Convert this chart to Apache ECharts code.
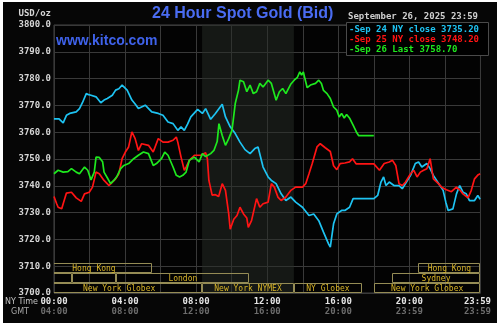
<!DOCTYPE html>
<html>
<head>
<meta charset="utf-8">
<script src="https://cdn.jsdelivr.net/npm/echarts@6/dist/echarts.min.js"></script>
<style>
  html, body { margin: 0; padding: 0; background: #ffffff; }
  #wrap { position: relative; width: 500px; height: 326px; background: #ffffff; }
  #panel { position: absolute; left: 3px; top: 2px; width: 494px; height: 321px; background: #060606; }
  #chart { position: absolute; left: 0; top: 0; width: 500px; height: 326px; }
</style>
</head>
<body>
<div id="wrap"><div id="panel"></div><div id="chart"></div></div>
<script>
// Minutes after 00:00 New York time, and spot gold bid (USD/oz)
const sep24Minutes = [0,3,17,31,42,53,64,75,86,96,109,117,125,142,158,169,180,197,208,219,230,247,263,274,285,308,330,352,368,385,402,418,429,440,451,462,485,501,512,529,545,551,568,579,595,612,628,645,662,678,689,706,723,734,750,767,783,800,816,839,861,877,894,910,927,933,944,955,971,982,998,1010,1020,1080,1093,1104,1113,1121,1132,1148,1165,1176,1187,1204,1220,1231,1242,1259,1270,1281,1287,1303,1314,1323,1331,1347,1359,1370,1381,1392,1403,1420,1431,1439];
const sep24Prices = [3765.0,3765.7,3765.0,3763.5,3766.3,3767.0,3767.3,3767.6,3768.8,3771.0,3774.4,3774.0,3773.8,3773.2,3771.0,3772.0,3772.6,3773.8,3775.7,3776.2,3777.6,3775.7,3772.0,3770.5,3768.8,3770.1,3767.6,3767.0,3766.3,3763.8,3763.2,3760.7,3762.0,3760.7,3763.0,3765.7,3768.5,3767.0,3768.8,3764.8,3767.0,3767.6,3770.4,3765.7,3762.0,3759.5,3756.3,3753.5,3752.0,3753.9,3754.5,3747.0,3743.3,3742.0,3740.8,3737.0,3734.5,3735.8,3733.9,3732.0,3728.9,3729.5,3727.0,3722.7,3718.3,3717.1,3725.8,3729.5,3730.8,3730.8,3732.0,3735.2,3735.2,3735.2,3736.4,3741.4,3743.3,3740.1,3741.4,3740.1,3740.1,3738.9,3740.8,3743.9,3748.3,3748.9,3747.0,3748.3,3746.4,3743.9,3744.5,3740.1,3738.3,3733.9,3730.8,3731.4,3737.0,3740.1,3737.6,3737.0,3734.5,3734.5,3736.4,3735.0];

const sep25Minutes = [0,9,14,26,31,42,59,75,92,103,119,130,142,153,169,186,197,208,219,230,241,252,263,274,285,296,319,335,352,368,385,402,413,418,429,440,446,457,474,496,512,518,523,534,545,556,568,579,590,595,607,618,628,640,651,656,667,684,695,706,723,734,744,756,767,783,800,816,839,850,861,872,888,899,916,933,944,955,966,982,998,1008,1020,1080,1099,1115,1132,1143,1154,1165,1176,1187,1204,1215,1226,1237,1248,1259,1270,1281,1298,1309,1325,1342,1359,1370,1381,1398,1409,1420,1431,1439];
const sep25Prices = [3736.0,3733.3,3732.0,3731.4,3733.3,3737.3,3737.6,3735.5,3734.2,3737.0,3737.6,3739.5,3745.1,3744.5,3742.0,3740.1,3741.4,3742.6,3744.5,3750.1,3752.6,3754.5,3760.1,3757.6,3753.2,3755.7,3755.1,3752.6,3757.6,3756.3,3756.3,3757.0,3758.2,3756.3,3750.7,3745.8,3747.0,3749.5,3751.4,3751.4,3752.3,3750.0,3742.0,3736.5,3736.7,3736.0,3740.8,3738.3,3729.5,3723.8,3727.5,3728.9,3732.0,3729.5,3728.0,3724.5,3727.0,3735.2,3732.0,3733.3,3733.9,3740.8,3739.5,3735.8,3734.5,3735.8,3738.3,3739.5,3739.5,3740.8,3744.5,3748.3,3754.5,3755.7,3754.2,3752.8,3747.5,3746.0,3748.3,3748.5,3748.9,3750.1,3748.2,3748.2,3745.8,3748.3,3748.9,3749.5,3747.6,3740.8,3740.1,3741.4,3744.5,3745.8,3743.3,3745.1,3745.8,3746.4,3750.1,3742.6,3740.8,3739.5,3738.5,3737.8,3739.5,3738.5,3737.0,3735.5,3738.3,3742.6,3744.0,3744.5];

const sep26Minutes = [0,14,31,47,59,75,86,103,114,125,136,142,153,164,169,180,191,202,213,225,236,252,269,285,302,319,335,346,363,374,385,402,413,424,435,446,457,474,490,501,512,529,540,551,557,568,579,590,601,612,623,628,640,651,662,673,684,695,706,723,734,750,761,772,783,800,811,822,830,836,842,847,855,866,883,894,903,910,922,933,944,955,963,971,980,988,999,1010,1021,1029,1080];
const sep26Prices = [3744.5,3745.8,3745.1,3745.3,3746.4,3745.1,3744.5,3747.0,3745.8,3742.2,3745.1,3750.7,3750.6,3749.0,3745.1,3743.0,3740.8,3742.0,3743.6,3746.4,3747.6,3748.3,3750.1,3751.4,3752.6,3752.0,3747.6,3748.3,3750.1,3752.6,3751.4,3747.0,3743.9,3743.3,3743.9,3745.1,3749.5,3750.7,3748.9,3752.0,3750.9,3752.0,3753.2,3756.5,3763.2,3758.8,3755.1,3757.6,3760.7,3770.7,3775.7,3779.4,3778.8,3775.1,3777.6,3774.4,3775.1,3778.2,3776.9,3779.4,3778.2,3771.9,3775.1,3776.3,3774.4,3778.0,3779.4,3780.5,3782.5,3781.3,3782.5,3780.1,3776.6,3777.6,3778.2,3779.4,3778.2,3775.6,3774.4,3772.6,3769.4,3768.2,3765.7,3767.0,3765.3,3766.6,3765.1,3762.6,3760.1,3758.7,3758.7];

// Legend entries
const seriesNames = ['Sep 24 NY close', 'Sep 25 NY close', 'Sep 26 Last'];
const seriesValues = [3735.20, 3748.20, 3758.70];
const seriesColors = ['#1ec3f2', '#ff1414', '#1ee81e'];
const dateStamp = 'September 26, 2025 23:59';

// Axis ticks
const priceMin = 3700, priceMax = 3800, priceStep = 10;
const timeMin = 0, timeMax = 1440, timeStep = 120;

// Trading sessions (minutes, NY time) and the row they sit in
const sessionNames = ['Hong Kong', 'Hong Kong', '', '', 'London', 'Sydney', 'New York Globex', 'New York NYMEX', 'NY Globex', 'New York Globex'];
const sessionStart = [-60, 1230, -60, 60, 210, 1140, -60, 500, 810, 1080];
const sessionEnd = [330, 1440, 60, 210, 660, 1440, 500, 810, 1040, 1440];
const sessionRow = [0, 0, 1, 1, 1, 1, 2, 2, 2, 2];

// COMEX pit hours shading
const comexStart = 500, comexEnd = 810;

const MONO = '"DejaVu Sans Mono", monospace';
const pad = n => String(n).padStart(2, '0');
function clock(min) {
  if (min >= 1440) min = 1439;
  const m = ((min % 1440) + 1440) % 1440;
  return pad(Math.floor(m / 60)) + ':' + pad(m % 60);
}
const zip = (xs, ys) => xs.map((x, i) => [x, ys[i]]);

const chart = echarts.init(document.getElementById('chart'), null, { renderer: 'canvas' });

const lineSeries = [sep24Minutes, sep25Minutes, sep26Minutes].map((mins, i) => ({
  name: seriesNames[i],
  type: 'line',
  data: zip(mins, [sep24Prices, sep25Prices, sep26Prices][i]),
  showSymbol: false,
  symbol: 'none',
  smooth: false,
  z: 5,
  lineStyle: { color: seriesColors[i], width: 1.7 },
  clip: true
}));

const sessionSeries = {
  type: 'custom',
  clip: true,
  z: 2,
  silent: true,
  data: sessionNames.map((n, i) => [sessionStart[i], sessionEnd[i], sessionRow[i]]),
  renderItem: function (params, api) {
    const s = api.value(0), e = api.value(1), row = api.value(2);
    const p0 = api.coord([s, priceMin]);
    const p1 = api.coord([e, priceMin]);
    const rowH = 10;
    const y = Math.round(p0[1] - (3 - row) * rowH) + 0.5;
    const x0 = Math.round(p0[0]) + 0.5, x1 = Math.round(p1[0]) - 0.5;
    return {
      type: 'group',
      children: [
        { type: 'rect', shape: { x: x0, y: y, width: x1 - x0, height: rowH - 1 },
          style: { fill: null, stroke: '#958c55', lineWidth: 1 } },
        { type: 'text', style: { text: sessionNames[params.dataIndex], x: (p0[0] + p1[0]) / 2, y: y + rowH / 2,
          align: 'center', verticalAlign: 'middle', fill: '#d8b428', font: '8px ' + MONO } }
      ]
    };
  },
  markArea: {
    silent: true,
    itemStyle: { color: 'rgba(40,46,40,0.5)' },
    data: [[{ xAxis: comexStart }, { xAxis: comexEnd }]]
  }
};

const legendTexts = seriesNames.map((n, i) => ({
  type: 'text', left: 349, top: 25 + i * 10, z: 20,
  style: { text: '-' + n + ' ' + seriesValues[i].toFixed(2), fill: seriesColors[i], font: 'bold 9px ' + MONO }
}));

chart.setOption({
  animation: false,
  backgroundColor: 'transparent',
  grid: { left: 54, right: 12, top: 25, bottom: 33, show: true, backgroundColor: '#030303', borderColor: '#454545', borderWidth: 1 },
  xAxis: {
    type: 'value', min: timeMin, max: timeMax, interval: timeStep,
    axisLine: { show: false }, axisTick: { show: false },
    splitLine: { show: true, lineStyle: { color: '#393939', width: 1 } },
    axisLabel: {
      margin: 4,
      showMaxLabel: true,
      formatter: function (v) {
        if (v % 240 !== 0 && v !== timeMax) return '';
        const ny = clock(v), gmt = clock(v === timeMax ? v + 239 : v + 240);
        if (v === timeMax) return '{nyl|' + ny + '}\n{gmtl|' + gmt + '}';
        return '{ny|' + ny + '}\n{gmt|' + gmt + '}';
      },
      rich: {
        ny: { color: '#e6e6e6', fontFamily: MONO, fontWeight: 'bold', fontSize: 9, lineHeight: 10 },
        gmt: { color: '#6c6c6c', fontFamily: MONO, fontWeight: 'bold', fontSize: 9, lineHeight: 10 },
        nyl: { color: '#e6e6e6', fontFamily: MONO, fontWeight: 'bold', fontSize: 9, lineHeight: 10, padding: [0, 6, 0, 0] },
        gmtl: { color: '#6c6c6c', fontFamily: MONO, fontWeight: 'bold', fontSize: 9, lineHeight: 10, padding: [0, 6, 0, 0] }
      }
    }
  },
  yAxis: {
    type: 'value', min: priceMin, max: priceMax, interval: priceStep,
    axisLine: { show: false }, axisTick: { show: false },
    splitLine: { show: true, lineStyle: { color: '#393939', width: 1 } },
    axisLabel: { margin: 3, color: '#d6d6d6', fontFamily: MONO, fontWeight: 'bold', fontSize: 9,
      formatter: v => v.toFixed(1) }
  },
  graphic: [
    { type: 'text', left: 152, top: 6, z: 20,
      style: { text: '24 Hour Spot Gold (Bid)', fill: '#4a6cf2', font: 'bold 16px "Liberation Sans", Arial, sans-serif' } },
    { type: 'text', left: 56, top: 34, z: 20,
      style: { text: 'www.kitco.com', fill: '#3f62ea', font: 'bold 14px "Liberation Sans", Arial, sans-serif' } },
    { type: 'text', right: 449, top: 9, z: 20,
      style: { text: 'USD/oz', fill: '#d6d6d6', font: 'bold 9px ' + MONO } },
    { type: 'text', left: 348, top: 12, z: 20,
      style: { text: dateStamp, fill: '#cfcfcf', font: 'bold 9px ' + MONO } },
    { type: 'rect', z: 15, shape: { x: 346.5, y: 22.5, width: 142, height: 33 },
      style: { fill: '#000000', stroke: '#4a4a4a', lineWidth: 1 } },
    ...legendTexts,
    { type: 'text', left: 5, top: 298, z: 20,
      style: { text: 'NY Time', fill: '#c4c4c4', font: '8px "DejaVu Sans", sans-serif' } },
    { type: 'text', left: 11, top: 308, z: 20,
      style: { text: 'GMT', fill: '#a8a8a8', font: '8px "DejaVu Sans", sans-serif' } }
  ],
  series: [sessionSeries, ...lineSeries]
});
</script>
</body>
</html>
